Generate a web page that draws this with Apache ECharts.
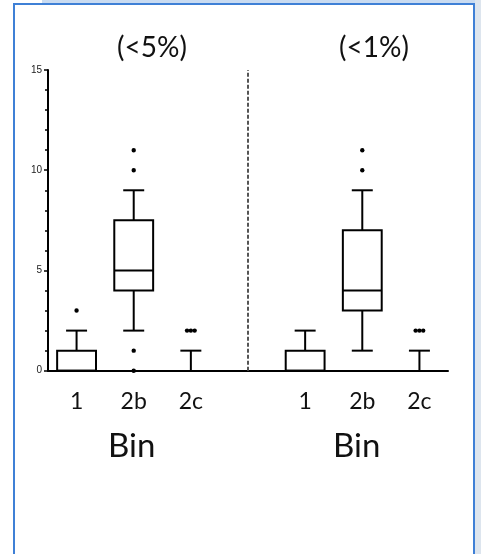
<!DOCTYPE html>
<html>
<head>
<meta charset="utf-8">
<script src="https://cdn.jsdelivr.net/npm/echarts@6/dist/echarts.min.js"></script>
<style>
  html, body { margin: 0; padding: 0; background: #fff; }
  #chart { width: 481px; height: 554px; }
</style>
</head>
<body>
<div id="chart"></div>
<script>
// ---- data ----
const binLabels = ['1', '2b', '2c'];
const panelTitles = ['(<5%)', '(<1%)'];
const axisTitle = 'Bin';
const yTicks = [0, 5, 10, 15];

// panel (<5%)
const lowWhisker5 = [0, 2, 0];
const q1_5 = [0, 4, 0];
const median5 = [0, 5, 0];
const q3_5 = [1, 7.5, 0];
const highWhisker5 = [2, 9, 1];
const outliers5 = [[3], [11, 10, 1, 0], [2, 2, 2]];

// panel (<1%)
const lowWhisker1 = [0, 1, 0];
const q1_1 = [0, 3, 0];
const median1 = [0, 4, 0];
const q3_1 = [1, 7, 0];
const highWhisker1 = [2, 9, 1];
const outliers1 = [[], [11, 10], [2, 2, 2]];

// ---- build ----
const categories = binLabels.concat(['']).concat(binLabels);
const gapIndex = binLabels.length;
const panels = [
  { offset: 0, lo: lowWhisker5, q1: q1_5, med: median5, q3: q3_5, hi: highWhisker5, out: outliers5 },
  { offset: gapIndex + 1, lo: lowWhisker1, q1: q1_1, med: median1, q3: q3_1, hi: highWhisker1, out: outliers1 }
];
const boxData = [];
const outlierData = [];
panels.forEach(p => {
  binLabels.forEach((b, i) => {
    boxData.push([p.offset + i, p.lo[i], p.q1[i], p.med[i], p.q3[i], p.hi[i]]);
    const counts = {};
    p.out[i].forEach(v => { counts[v] = (counts[v] || 0) + 1; });
    Object.keys(counts).forEach(v => outlierData.push([p.offset + i, Number(v), counts[v]]));
  });
});

const LINE = { stroke: '#000', lineWidth: 2 };

function renderBox(params, api) {
  const x = api.value(0);
  const lo = api.value(1), q1 = api.value(2), med = api.value(3), q3 = api.value(4), hi = api.value(5);
  const y = v => api.coord([x, v])[1];
  const cx = api.coord([x, 0])[0];
  const bw = api.size([1, 0])[0] * 0.68;
  const cw = bw * 0.54;
  const children = [];
  if (q3 > q1) {
    children.push({ type: 'rect', shape: { x: cx - bw / 2, y: y(q3), width: bw, height: y(q1) - y(q3) },
      style: { fill: '#fff', stroke: '#000', lineWidth: 2 } });
  }
  if (q3 > q1 || med > 0) {
    children.push({ type: 'line', shape: { x1: cx - bw / 2, y1: y(med), x2: cx + bw / 2, y2: y(med) }, style: LINE });
  }
  if (hi > q3) {
    children.push({ type: 'line', shape: { x1: cx, y1: y(q3), x2: cx, y2: y(hi) }, style: LINE });
    children.push({ type: 'line', shape: { x1: cx - cw / 2, y1: y(hi), x2: cx + cw / 2, y2: y(hi) }, style: LINE });
  }
  if (lo < q1) {
    children.push({ type: 'line', shape: { x1: cx, y1: y(q1), x2: cx, y2: y(lo) }, style: LINE });
    children.push({ type: 'line', shape: { x1: cx - cw / 2, y1: y(lo), x2: cx + cw / 2, y2: y(lo) }, style: LINE });
  }
  return { type: 'group', children: children };
}

function renderOutliers(params, api) {
  const x = api.value(0), v = api.value(1), n = api.value(2);
  const p = api.coord([x, v]);
  const step = 3.8;
  const children = [];
  for (let k = 0; k < n; k++) {
    children.push({ type: 'circle', shape: { cx: p[0] + (k - (n - 1) / 2) * step, cy: p[1], r: 2.2 },
      style: { fill: '#000' } });
  }
  return { type: 'group', children: children };
}

const chart = echarts.init(document.getElementById('chart'), null, { renderer: 'canvas' });
const FONT = 'Lato, "Open Sans", sans-serif';
const BLUE = '#3f80d6';

chart.setOption({
  backgroundColor: '#fff',
  animation: false,
  grid: { left: 48, right: 33, top: 70, bottom: 183.3, containLabel: false },
  xAxis: {
    type: 'category',
    data: categories,
    boundaryGap: true,
    axisLine: { lineStyle: { color: '#000', width: 2 } },
    axisTick: { alignWithLabel: true, interval: (i) => i !== gapIndex, length: 5, lineStyle: { color: '#000', width: 2 } },
    axisLabel: { interval: 0, fontFamily: FONT, fontSize: 23, color: '#111', margin: 19 },
    splitLine: { show: false }
  },
  yAxis: {
    type: 'value',
    min: yTicks[0], max: yTicks[yTicks.length - 1], interval: yTicks[1] - yTicks[0],
    axisLine: { show: true, lineStyle: { color: '#000', width: 2 } },
    axisTick: { show: true, length: 4, lineStyle: { color: '#000', width: 1.5 } },
    minorTick: { show: true, splitNumber: 5, length: 3, lineStyle: { color: '#000', width: 1.5 } },
    axisLabel: { fontFamily: 'Liberation Sans, Arial, sans-serif', fontSize: 10, color: '#222', margin: 6 },
    splitLine: { show: false }
  },
  title: [
    { text: panelTitles[0], left: 147, top: 29, textAlign: 'center',
      textStyle: { fontFamily: FONT, fontSize: 28, fontWeight: 'normal', color: '#111' } },
    { text: panelTitles[1], left: 369, top: 29, textAlign: 'center',
      textStyle: { fontFamily: FONT, fontSize: 28, fontWeight: 'normal', color: '#111' } }
  ],
  graphic: [
    { type: 'rect', shape: { x: 42, y: 0, width: 439, height: 3 }, style: { fill: '#c9dbf1' } },
    { type: 'rect', shape: { x: 475, y: 0, width: 6, height: 554 }, style: { fill: '#dde5ee' } },
    { type: 'rect', shape: { x: 13, y: 3, width: 462, height: 2 }, style: { fill: BLUE } },
    { type: 'rect', shape: { x: 13, y: 3, width: 2, height: 551 }, style: { fill: BLUE } },
    { type: 'rect', shape: { x: 473, y: 3, width: 2, height: 551 }, style: { fill: BLUE } },
    { type: 'text', left: 133 - 25, top: 430, style: { text: axisTitle, font: '33px ' + FONT, fill: '#111' } },
    { type: 'text', left: 358 - 25, top: 430, style: { text: axisTitle, font: '33px ' + FONT, fill: '#111' } }
  ],
  series: [
    {
      type: 'custom',
      renderItem: renderBox,
      data: boxData,
      encode: { x: 0, y: [1, 2, 3, 4, 5] },
      z: 3,
      markLine: {
        silent: true,
        symbol: 'none',
        label: { show: false },
        lineStyle: { color: '#555', width: 2, type: [4, 2] },
        data: [{ xAxis: gapIndex }]
      }
    },
    {
      type: 'custom',
      renderItem: renderOutliers,
      data: outlierData,
      encode: { x: 0, y: 1 },
      z: 4
    }
  ]
});
</script>
</body>
</html>
